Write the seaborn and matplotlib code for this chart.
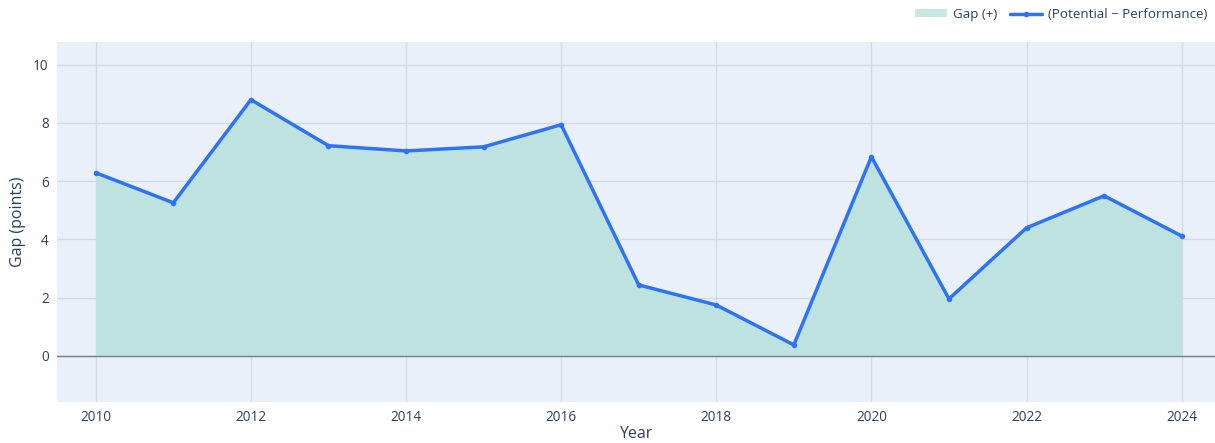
import matplotlib
matplotlib.use("Agg")
import matplotlib.pyplot as plt
import seaborn as sns
import pandas as pd
import numpy as np
from matplotlib.lines import Line2D
from matplotlib.patches import Patch

years = [2010, 2011, 2012, 2013, 2014, 2015, 2016, 2017, 2018, 2019, 2020, 2021, 2022, 2023, 2024]
gap = [6.29, 5.26, 8.80, 7.22, 7.04, 7.18, 7.94, 2.44, 1.75, 0.38, 6.84, 1.96, 4.40, 5.50, 4.12]
x_ticks = [2010, 2012, 2014, 2016, 2018, 2020, 2022, 2024]
y_ticks = [0, 2, 4, 6, 8, 10]

df = pd.DataFrame({"Year": years, "Gap": gap})

sns.set_theme(style="white")
plt.rcParams['font.family'] = ['Open Sans', 'DejaVu Sans']

fig = plt.figure(figsize=(12.15, 4.43), dpi=100)
ax = fig.add_axes([57/1215, 41/443, 1158/1215, 360/443])
ax.set_facecolor("#eaf0f9")

txt = "#2a3f5f"
ax.set_xlim(2009.5, 2024.43)
ax.set_ylim(-1.58, 10.78)
ax.set_xticks(x_ticks)
ax.set_yticks(y_ticks)
ax.grid(True, color="#d3dbe8", linewidth=1)
ax.set_axisbelow(True)
for s in ax.spines.values():
    s.set_visible(False)
ax.tick_params(axis="both", length=0, labelsize=9.8, labelcolor=txt, pad=6)

y = np.array(gap)
ax.fill_between(years, 0, y, where=y >= 0, color="#bde2e0", alpha=1, linewidth=0, zorder=2)
ax.axhline(0, color="#7f7f7f", linewidth=1, zorder=3)
sns.lineplot(data=df, x="Year", y="Gap", ax=ax, color="#2e73f5", linewidth=2.5,
             marker="o", markersize=4, markeredgewidth=0, zorder=4, legend=False)

ax.set_xlabel("Year", fontsize=11.5, color=txt)
ax.xaxis.set_label_coords((636 - 57) / 1158, (402 - 434) / 360, transform=ax.transAxes)
ax.xaxis.label.set_va("center")
ax.set_ylabel("Gap (points)", fontsize=11.5, color=txt)
ax.yaxis.set_label_coords((26 - 57) / 1158, 0.5, transform=ax.transAxes)

handles = [Patch(facecolor="#c6e9e4", edgecolor="none"),
           Line2D([0], [0], color="#2e73f5", lw=2.5, marker="o", markersize=3)]
fig.legend(handles, ["Gap (+)", "(Potential − Performance)"], loc="upper right",
           bbox_to_anchor=(1.0, 1.0), ncol=2, frameon=False, fontsize=9.6,
           labelcolor=txt, handlelength=2.4, handleheight=0.5, columnspacing=1.0,
           handletextpad=0.4, borderaxespad=0.2)

fig.savefig("out.png", dpi=100)
